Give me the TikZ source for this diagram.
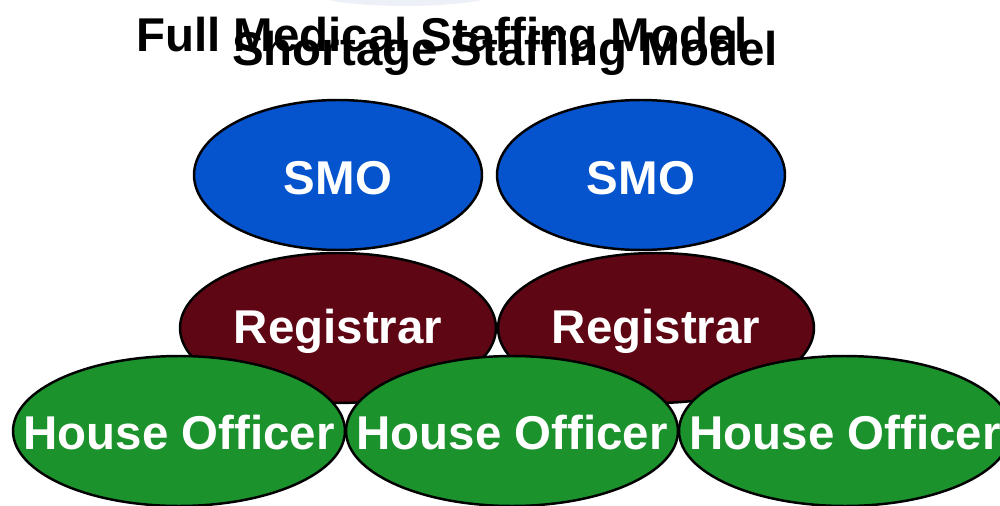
\documentclass[tikz,border=0pt]{standalone}
\usepackage{fontspec}
\setmainfont{Liberation Sans}
\usetikzlibrary{shapes.geometric}
\definecolor{smoblue}{RGB}{5,84,206}
\definecolor{regred}{RGB}{94,6,20}
\definecolor{hogreen}{RGB}{27,146,43}
\definecolor{haze}{RGB}{222,226,240}
\tikzset{
  staff/.style={ellipse,draw=black,line width=1.4pt,inner sep=0pt,minimum height=3cm},
  smo/.style={staff,fill=smoblue,minimum width=5.76cm},
  reg/.style={staff,fill=regred,minimum width=6.32cm},
  house/.style={staff,fill=hogreen,minimum width=6.64cm},
  rank/.style={text=white,inner sep=0pt,anchor=base,font=\fontsize{27}{30}\selectfont\bfseries},
  heading/.style={anchor=base,font=\fontsize{27}{30}\selectfont\bfseries}
}
\begin{document}
\begin{tikzpicture}[x=0.02cm,y=-0.02cm]
  \useasboundingbox (0,0) rectangle (1000,506);
  \begin{scope}
    \clip (0,0) rectangle (1000,506);
    \fill[haze,opacity=0.5] (405,-6) ellipse (88 and 12);
  \end{scope}
  % titles (two slides laid over each other)
  \node[heading] (full) at (442,52) {Full Medical Staffing Model};
  \node[heading] (short) at (505,66) {Shortage Staffing Model};
  % top row
  \node[smo] (smoA) at (338,175) {};
  \node[rank,yshift=-0.4cm] at (smoA) {SMO};
  \node[smo] (smoB) at (641,175) {};
  \node[rank,yshift=-0.4cm] at (smoB) {SMO};
  % middle row
  \node[reg] (regA) at (338,328) {};
  \node[rank,yshift=-0.31cm] at (regA) {Registrar};
  \node[reg] (regB) at (656,328) {};
  \node[rank,yshift=-0.31cm] at (regB) {Registrar};
  % bottom row
  \foreach \x/\name in {179/hoA,512/hoB,845/hoC}{
    \node[house] (\name) at (\x,431) {};
    \node[rank,yshift=-0.37cm] at (\name) {House Officer};
  }
\end{tikzpicture}
\end{document}
